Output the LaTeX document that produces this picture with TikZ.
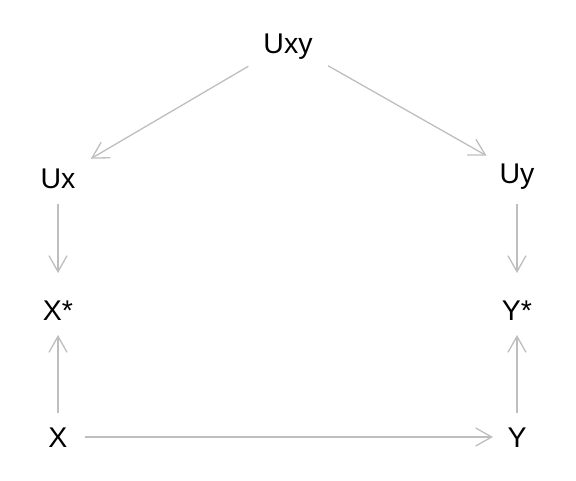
\documentclass[tikz,border=0pt]{standalone}
\usepackage{fontspec}
\setmainfont{Liberation Sans}
\usetikzlibrary{arrows.meta}
\definecolor{edgegray}{RGB}{190,190,190}
\begin{document}
\begin{tikzpicture}[x=1pt,y=1pt,
  lbl/.style={inner sep=0pt, font=\fontsize{28.5}{32}\selectfont, text height=20.3pt, text depth=0pt},
  edge/.style={draw=edgegray, line width=1.3pt, -{Straight Barb[length=16pt,width=18pt,line width=1.3pt]}}]
\useasboundingbox (0,0) rectangle (576,480);
\node[lbl] (uxy) at (288,437) {Uxy};
\node[lbl] (ux) at (58,302) {Ux};
\node[lbl] (uy) at (517,307) {Uy};
\node[lbl] (xs) at (58,170) {X*};
\node[lbl] (ys) at (517,170) {Y*};
\node[lbl] (x) at (58,43) {X};
\node[lbl] (y) at (517,43) {Y};
\draw[edge, shorten <=46pt, shorten >=38pt] (uxy.center) -- (ux.center);
\draw[edge, shorten <=46pt, shorten >=35pt] (uxy.center) -- (uy.center);
\draw[edge, shorten <=26pt, shorten >=37pt] (ux.center) -- (xs.center);
\draw[edge, shorten <=31pt, shorten >=37pt] (uy.center) -- (ys.center);
\draw[edge, shorten <=24pt, shorten >=25pt] (x.center) -- (xs.center);
\draw[edge, shorten <=24pt, shorten >=25pt] (y.center) -- (ys.center);
\draw[edge, shorten <=27pt, shorten >=24pt] (x.center) -- (y.center);
\end{tikzpicture}
\end{document}
